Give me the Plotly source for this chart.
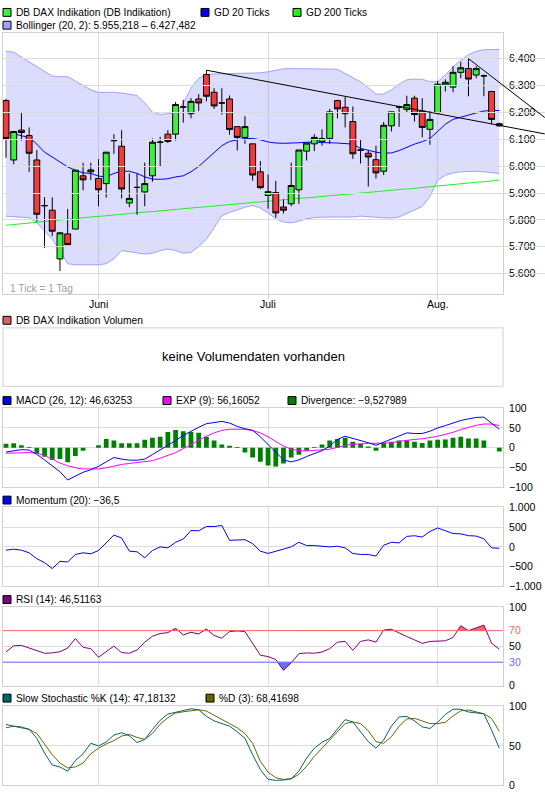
import plotly.graph_objects as go

# ---------------- data ----------------
idx = list(range(65))
month_pos = [12, 34, 56]
month_labels = ["Juni", "Juli", "Aug."]

price_open = [6244, 6023, 6134, 6114, 6023, 5853, 5836, 5655, 5748, 5766,
              5964, 5979, 5954, 5935, 6095, 6074, 5863, 5921, 5904, 5964,
              6089, 6119, 6119, 6220, 6195, 6250, 6341, 6275, 6235, 6250,
              6147, 6107, 6083, 5979, 5891, 5902, 5848, 5860, 5912, 6056,
              6083, 6092, 6103, 6244, 6219, 6166, 6060, 6048, 6024, 5981,
              6150, 6220, 6211, 6253, 6205, 6137, 6198, 6302, 6294, 6349,
              6363, 6339, 6336, 6278, 6150]
price_high = [6251, 6131, 6200, 6144, 6060, 5885, 5884, 5755, 5841, 5985,
              6013, 6013, 6026, 6052, 6119, 6134, 5973, 5973, 6013, 6103,
              6109, 6134, 6239, 6247, 6253, 6268, 6357, 6290, 6290, 6263,
              6147, 6186, 6083, 6019, 5969, 5945, 5877, 6013, 6060, 6086,
              6119, 6137, 6213, 6247, 6260, 6222, 6101, 6058, 6076, 6164,
              6202, 6225, 6262, 6262, 6253, 6205, 6317, 6323, 6372, 6388,
              6400, 6372, 6341, 6278, 6162]
price_low = [6031, 6007, 6095, 5979, 5793, 5695, 5740, 5610, 5707, 5766,
             5910, 5948, 5851, 5883, 6046, 5880, 5847, 5819, 5851, 5942,
             5999, 6086, 6095, 6162, 6178, 6205, 6241, 6213, 6192, 6117,
             6058, 6083, 5946, 5914, 5842, 5808, 5824, 5851, 5860, 6021,
             6056, 6076, 6083, 6178, 6144, 6027, 6010, 5924, 5954, 5967,
             6129, 6146, 6198, 6166, 6107, 6079, 6195, 6278, 6275, 6327,
             6260, 6327, 6260, 6156, 6147]
price_close = [6103, 6129, 6125, 6048, 5821, 5853, 5758, 5752, 5708, 5985,
               5949, 5986, 5912, 6052, 6095, 5915, 5880, 5921, 5935, 6089,
               6089, 6092, 6229, 6220, 6241, 6235, 6260, 6224, 6235, 6136,
               6107, 6147, 5967, 5920, 5905, 5826, 5836, 5928, 6060, 6086,
               6107, 6103, 6202, 6213, 6195, 6046, 6060, 6034, 5975, 6152,
               6202, 6220, 6229, 6192, 6144, 6174, 6305, 6312, 6349, 6366,
               6324, 6363, 6336, 6174, 6158]

boll_upper = [6427, 6424, 6406, 6388, 6369, 6351, 6335, 6333, 6333, 6317,
              6302, 6284, 6274, 6274, 6275, 6272, 6268, 6263, 6235, 6201,
              6192, 6195, 6198, 6235, 6290, 6327, 6341, 6343, 6344, 6345,
              6345, 6345, 6346, 6347, 6351, 6357, 6362, 6363, 6363, 6363,
              6362, 6361, 6361, 6360, 6345, 6327, 6314, 6292, 6268, 6268,
              6284, 6305, 6321, 6324, 6323, 6314, 6314, 6339, 6369, 6394,
              6415, 6427, 6433, 6434, 6434]
boll_lower = [5814, 5811, 5810, 5808, 5789, 5759, 5728, 5686, 5637, 5633,
              5633, 5633, 5633, 5637, 5655, 5686, 5682, 5676, 5673, 5676,
              5686, 5692, 5686, 5676, 5679, 5701, 5728, 5771, 5816, 5828,
              5838, 5847, 5854, 5844, 5826, 5804, 5792, 5789, 5796, 5804,
              5809, 5811, 5811, 5811, 5811, 5811, 5814, 5813, 5810, 5808,
              5807, 5811, 5824, 5836, 5850, 5887, 5948, 5966, 5975, 5979,
              5981, 5981, 5979, 5975, 5973]
gd20 = [6125, 6121, 6113, 6107, 6082, 6052, 6034, 6015, 5997, 5985,
        5975, 5973, 5963, 5960, 5973, 5981, 5981, 5973, 5960, 5952,
        5951, 5953, 5960, 5964, 5979, 5999, 6024, 6052, 6076, 6092,
        6098, 6103, 6103, 6098, 6090, 6086, 6085, 6085, 6087, 6089,
        6089, 6089, 6087, 6086, 6085, 6082, 6066, 6058, 6052, 6049,
        6049, 6058, 6070, 6082, 6091, 6103, 6129, 6156, 6174, 6183,
        6190, 6198, 6205, 6207, 6207]
gd200 = [5780, 5783, 5786, 5789, 5792, 5795, 5797, 5800, 5803, 5805,
         5808, 5811, 5813, 5816, 5818, 5821, 5823, 5826, 5829, 5831,
         5834, 5836, 5839, 5842, 5844, 5847, 5849, 5852, 5854, 5857,
         5860, 5862, 5865, 5867, 5870, 5872, 5875, 5877, 5880, 5882,
         5885, 5887, 5890, 5892, 5895, 5897, 5900, 5902, 5905, 5908,
         5910, 5913, 5915, 5918, 5920, 5923, 5925, 5928, 5931, 5934,
         5937, 5940, 5942, 5945, 5948]

trend1_x = [26, 69.9]
trend1_y = [6357, 6120]
trend2_x = [60, 69.9]
trend2_y = [6400, 6181]

macd = [-11, -7.5, -5, -6, -17, -31, -46, -61, -82, -72.5,
        -62.5, -56, -47.5, -36, -25, -29, -31.7, -31.7, -29, -17.5,
        -6, 6.7, 18, 31, 41.7, 51.7, 60.8, 63, 66.7, 62.5,
        54, 48, 44, 27.5, 8.3, -12.5, -31, -36, -31, -22.5,
        -14, -7.5, 4, 21, 29, 24, 19, 12.5, 6, 14,
        22.5, 31, 37.5, 36, 36, 41.7, 50, 56, 62.5, 69,
        73, 76.7, 77.5, 62.5, 46.6]
signal = [-14, -13, -12.5, -12.5, -14, -20, -29, -39, -46, -51,
          -54, -54, -54, -51, -46, -42.5, -40, -38, -36.7, -33,
          -26.7, -19, -12.5, -2.5, 8.3, 18, 29, 37.5, 44, 46.7,
          47.5, 46.7, 43.3, 37.5, 27.5, 16.7, 4, -4, -7.5, -8.3,
          -7.5, -6.7, -4, 1, 6, 8.3, 10, 11, 11, 11,
          12.5, 16, 19, 21, 22.5, 25, 29, 34, 39, 46,
          51.7, 56.7, 60, 60, 56.2]
divergence = [10, 11, 6, 2, -15, -23, -31, -29, -37, -21,
              -8, 0, 6, 22, 18, 11, 11, 11, 20, 25,
              28, 40, 45, 42, 40, 38, 28, 18, 8, 5,
              2, -12, -25, -36, -45, -48, -40, -25, -18, -8,
              2, 8, 18, 22, 25, 15, 10, 3, -8, 12,
              15, 18, 18, 15, 12, 18, 20, 21, 25, 27.5,
              23, 23, 18, 0, -9.5]
momentum = [-83, -58, -83, -150, -300, -400, -550, -367, -383, -192,
            -150, -175, -92, 100, 300, 225, -108, -125, -275, -92,
            0, -25, 117, 200, 417, 408, 517, 517, 542, 167,
            167, 183, 83, -108, -167, -108, -50, 0, 117, 33,
            33, 17, 0, 17, -25, -167, -192, -192, -233, 42,
            117, 100, 267, 283, 250, 392, 480, 410, 340, 330,
            285, 275, 205, -25, -36.5]
rsi = [42.9, 50.8, 51.3, 47.9, 44.6, 41.3, 41.7, 43.3, 47.9, 60,
       48.8, 47.1, 36.3, 43.8, 50.4, 42.1, 41.3, 45.4, 55.4, 62.9,
       66.3, 67.5, 72.9, 64.6, 67.9, 65.8, 72.1, 63.8, 60.4, 68.8,
       69.6, 68.8, 54.2, 38.8, 37.1, 33.3, 19.6, 29.2, 40.8, 41.7,
       41.3, 42.9, 47.1, 55.4, 56.3, 45, 56.3, 58.3, 55.4, 70.8,
       71.7, 66.7, 62.5, 58.3, 53.8, 56.3, 57.1, 57.1, 61.3, 76.3,
       70, 73.8, 77, 54, 46.5]
stoch_k = [77.1, 74.6, 72.9, 71.3, 59.6, 40.8, 25.8, 23.3, 17.9, 31.3,
           40, 53.3, 50, 55, 63.8, 66.7, 62.9, 54.2, 58.3, 70.8,
           82.5, 90.4, 92.5, 94.2, 97.1, 95.8, 87.5, 81.7, 78.3, 75,
           67.9, 59.6, 38.8, 20, 7.5, 6.3, 6.7, 8.3, 17.9, 34.6,
           47.1, 54.6, 59.6, 70.8, 83.3, 80.4, 67.9, 55.4, 47.1, 57.5,
           75, 86.7, 87.5, 81.7, 74.2, 72.1, 80, 90, 96.5, 96.5,
           93, 92, 90.8, 70, 47.2]
stoch_d = [72.9, 75, 74.2, 70.8, 65.8, 52.5, 38.8, 28.3, 22.1, 23.3,
           28.3, 40, 47.1, 52.5, 56.7, 62.5, 64.6, 60.8, 58.3, 65.8,
           77.5, 85.8, 91.7, 93.3, 95, 95.8, 94.2, 89.2, 84.2, 78.3,
           72.9, 65.8, 53.3, 30.4, 16.7, 9.6, 7.5, 8.3, 13.8, 24.2,
           36.7, 47.1, 57.5, 67.9, 78.3, 80.4, 78.3, 69.2, 55.4, 53.3,
           61.7, 75, 84.2, 85, 81.7, 78.3, 78.3, 80, 88, 94.5,
           95.5, 93.5, 90.8, 85, 68.4]

price_ticks = [5600, 5700, 5800, 5900, 6000, 6100, 6200, 6300, 6400]
price_ticktext = ["5.600", "5.700", "5.800", "5.900", "6.000", "6.100", "6.200", "6.300", "6.400"]
macd_ticks = [-100, -50, 0, 50, 100]
macd_ticktext = ["\u2212100", "\u221250", "0", "50", "100"]
mom_ticks = [-1000, -500, 0, 500, 1000]
mom_ticktext = ["\u22121.000", "\u2212500", "0", "500", "1.000"]
rsi_ticks = [0, 30, 50, 70, 100]
rsi_ticktext = ["0", '<span style="color:#6b6bff">30</span>', "50",
                '<span style="color:#ff6464">70</span>', "100"]
sto_ticks = [0, 50, 100]
sto_ticktext = ["0", "50", "100"]

# ---------------- layout constants ----------------
W, H = 545, 812
XL, XR = 3, 503
XRANGE = [-0.39, 64.48]
YRANGE = [5523, 6495]
FONT = "Liberation Sans, Arial, sans-serif"
FS = 10.5      # axis labels
LFS = 10.2     # legend texts
GRID = "#dcdcdc"
BORDER = "#d0d0d0"

UP = "#3cf03c"
DOWN = "#f03c3c"


def py(p):
    return 1 - p / H


def px(p):
    return p / W


panels = {
    "main": (27.5, 292.7),
    "macd": (408.3, 488.3),
    "mom": (509.0, 589.0),
    "rsi": (610.0, 690.0),
    "sto": (711.0, 791.0),
}


def ydom(name):
    t, b = panels[name]
    return [py(b), py(t)]


fig = go.Figure()

# ---- main price panel ----
fig.add_trace(go.Scatter(x=idx, y=boll_lower, mode="lines", line=dict(color="#a0a0ff", width=1),
                         xaxis="x", yaxis="y", hoverinfo="skip"))
fig.add_trace(go.Scatter(x=idx, y=boll_upper, mode="lines", line=dict(color="#a0a0ff", width=1),
                         fill="tonexty", fillcolor="rgba(140,140,255,0.30)",
                         xaxis="x", yaxis="y", hoverinfo="skip"))
fig.add_trace(go.Scatter(x=idx, y=gd200, mode="lines", line=dict(color="#22ee22", width=1),
                         xaxis="x", yaxis="y", hoverinfo="skip"))
fig.add_trace(go.Scatter(x=idx, y=gd20, mode="lines", line=dict(color="#0000ff", width=1),
                         xaxis="x", yaxis="y", hoverinfo="skip"))
# candles on an overlaid axis pair so they are drawn above the band and averages
fig.add_trace(go.Candlestick(x=idx, open=price_open, high=price_high, low=price_low, close=price_close,
                             increasing=dict(line=dict(color="black", width=1), fillcolor=UP),
                             decreasing=dict(line=dict(color="black", width=1), fillcolor=DOWN),
                             whiskerwidth=0, xaxis="x7", yaxis="y7", hoverinfo="skip"))
# trend lines (extend past the plot frame, drawn on a wider axis)
for tx, ty in ((trend1_x, trend1_y), (trend2_x, trend2_y)):
    fig.add_trace(go.Scatter(x=tx, y=ty, mode="lines", line=dict(color="black", width=1),
                             xaxis="x6", yaxis="y", hoverinfo="skip"))

# ---- MACD ----
fig.add_trace(go.Bar(x=idx, y=divergence, marker=dict(color="#008000", line=dict(width=0)), width=0.62,
                     xaxis="x2", yaxis="y2", hoverinfo="skip"))
fig.add_trace(go.Scatter(x=idx, y=signal, mode="lines", line=dict(color="#ff00ff", width=1),
                         xaxis="x2", yaxis="y2", hoverinfo="skip"))
fig.add_trace(go.Scatter(x=idx, y=macd, mode="lines", line=dict(color="#0000ff", width=1),
                         xaxis="x2", yaxis="y2", hoverinfo="skip"))

# ---- Momentum ----
fig.add_trace(go.Scatter(x=idx, y=momentum, mode="lines", line=dict(color="#0000ff", width=1),
                         xaxis="x3", yaxis="y3", hoverinfo="skip"))


# ---- RSI with fills beyond 70 / 30 ----
def clipped_polygon(xs, ys, level, above):
    ox, oy = [], []
    n = len(xs)
    for i in range(n):
        y = ys[i]
        inside = (y > level) if above else (y < level)
        ox.append(xs[i])
        oy.append(y if inside else level)
        if i < n - 1:
            y2 = ys[i + 1]
            if (y - level) * (y2 - level) < 0:
                t = (level - y) / (y2 - y)
                ox.append(xs[i] + t * (xs[i + 1] - xs[i]))
                oy.append(level)
    ox += [xs[-1], xs[0]]
    oy += [level, level]
    return ox, oy


fx, fy = clipped_polygon(idx, rsi, 70, True)
fig.add_trace(go.Scatter(x=fx, y=fy, mode="lines", line=dict(width=0), fill="toself",
                         fillcolor="#ff6464", xaxis="x4", yaxis="y4", hoverinfo="skip"))
fx, fy = clipped_polygon(idx, rsi, 30, False)
fig.add_trace(go.Scatter(x=fx, y=fy, mode="lines", line=dict(width=0), fill="toself",
                         fillcolor="#6b6bff", xaxis="x4", yaxis="y4", hoverinfo="skip"))
fig.add_trace(go.Scatter(x=idx, y=rsi, mode="lines", line=dict(color="#800080", width=1),
                         xaxis="x4", yaxis="y4", hoverinfo="skip"))

# ---- Stochastic ----
fig.add_trace(go.Scatter(x=idx, y=stoch_d, mode="lines", line=dict(color="#666600", width=1),
                         xaxis="x5", yaxis="y5", hoverinfo="skip"))
fig.add_trace(go.Scatter(x=idx, y=stoch_k, mode="lines", line=dict(color="#006666", width=1),
                         xaxis="x5", yaxis="y5", hoverinfo="skip"))

# ---------------- axes ----------------
xdom = [px(XL), px(XR)]
common_x = dict(domain=xdom, range=XRANGE, tickvals=month_pos, showgrid=True, gridcolor=GRID,
                gridwidth=1, showline=True, mirror=True, linecolor=BORDER, linewidth=1,
                zeroline=False, fixedrange=True)
common_y = dict(side="right", showgrid=True, gridcolor=GRID, gridwidth=1, showline=True, mirror=True,
                linecolor=BORDER, linewidth=1, zeroline=False, ticks="", fixedrange=True,
                ticklabelstandoff=3,
                tickfont=dict(family=FONT, size=FS, color="black"))

layout_axes = {}
layout_axes["xaxis"] = dict(common_x, anchor="y", ticks="outside", ticklen=4, tickcolor=BORDER,
                            showticklabels=False, rangeslider=dict(visible=False))
for k, a in (("xaxis2", "y2"), ("xaxis3", "y3"), ("xaxis4", "y4"), ("xaxis5", "y5")):
    layout_axes[k] = dict(common_x, anchor=a, showticklabels=False, ticks="")
ext = XRANGE[0] + (XRANGE[1] - XRANGE[0]) * (W - XL) / (XR - XL)
layout_axes["xaxis6"] = dict(domain=[px(XL), 1.0], range=[XRANGE[0], ext], anchor="y", visible=False,
                             showgrid=False, zeroline=False, fixedrange=True)
layout_axes["xaxis7"] = dict(overlaying="x", range=XRANGE, anchor="y7", visible=False, showgrid=False,
                             zeroline=False, fixedrange=True, rangeslider=dict(visible=False))

layout_axes["yaxis"] = dict(common_y, anchor="x", domain=ydom("main"), range=YRANGE,
                            tickvals=price_ticks, ticktext=price_ticktext)
layout_axes["yaxis7"] = dict(overlaying="y", range=YRANGE, anchor="x7", visible=False, showgrid=False,
                             zeroline=False, fixedrange=True)
layout_axes["yaxis2"] = dict(common_y, anchor="x2", domain=ydom("macd"), range=[-100, 100],
                             tickvals=macd_ticks, ticktext=macd_ticktext)
layout_axes["yaxis3"] = dict(common_y, anchor="x3", domain=ydom("mom"), range=[-1000, 1000],
                             tickvals=mom_ticks, ticktext=mom_ticktext)
layout_axes["yaxis4"] = dict(common_y, anchor="x4", domain=ydom("rsi"), range=[0, 100],
                             tickvals=rsi_ticks, ticktext=rsi_ticktext)
layout_axes["yaxis5"] = dict(common_y, anchor="x5", domain=ydom("sto"), range=[0, 100],
                             tickvals=sto_ticks, ticktext=sto_ticktext)

# ---------------- shapes & annotations ----------------
shapes = []
annotations = []


def legend_item(x_px, y_px, color, text):
    shapes.append(dict(type="rect", xref="paper", yref="paper",
                       x0=px(x_px), x1=px(x_px + 8), y0=py(y_px + 4), y1=py(y_px - 4),
                       fillcolor=color, line=dict(color="black", width=1)))
    annotations.append(dict(xref="paper", yref="paper", x=px(x_px + 11), y=py(y_px), text=text,
                            showarrow=False, xanchor="left", yanchor="middle",
                            font=dict(family=FONT, size=LFS, color="black")))


legend_item(3, 6.5, UP, "DB DAX Indikation (DB Indikation)")
legend_item(201, 6.5, "#0000ff", "GD 20 Ticks")
legend_item(293, 6.5, "#22ee22", "GD 200 Ticks")
legend_item(3, 19.5, "#a0a0ff", "Bollinger (20, 2): 5.955,218 \u2013 6.427,482")
legend_item(3, 319, "#d26464", "DB DAX Indikation Volumen")
legend_item(3, 400.5, "#0000ff", "MACD (26, 12): 46,63253")
legend_item(163, 400.5, "#ff00ff", "EXP (9): 56,16052")
legend_item(288, 400.5, "#008000", "Divergence: \u22129,527989")
legend_item(3, 501.5, "#0000ff", "Momentum (20): \u221236,5")
legend_item(3, 602.5, "#800080", "RSI (14): 46,51163")
legend_item(3, 702.5, "#006666", "Slow Stochastic %K (14): 47,18132")
legend_item(206, 702.5, "#666600", "%D (3): 68,41698")

# month labels under the price panel
for pos, lab in zip(month_pos, month_labels):
    annotations.append(dict(xref="x", yref="paper", x=pos, y=py(302.5), text=lab, showarrow=False,
                            xanchor="center", yanchor="middle",
                            font=dict(family=FONT, size=FS, color="black")))

# volume box
shapes.append(dict(type="rect", xref="paper", yref="paper", x0=px(XL), x1=px(XR),
                   y0=py(386), y1=py(326.7), line=dict(color=BORDER, width=1), fillcolor="rgba(0,0,0,0)"))
annotations.append(dict(xref="paper", yref="paper", x=px((XL + XR) / 2), y=py(356),
                        text="keine Volumendaten vorhanden", showarrow=False,
                        xanchor="center", yanchor="middle", font=dict(family=FONT, size=13, color="black")))
annotations.append(dict(xref="paper", yref="paper", x=px(8), y=py(286.5), text="1 Tick = 1 Tag",
                        showarrow=False, xanchor="left", yanchor="middle",
                        font=dict(family=FONT, size=LFS, color="#a0a0a0")))

# RSI 70/30 level lines
shapes.append(dict(type="line", xref="x4 domain", yref="y4", x0=0, x1=1, y0=70, y1=70,
                   line=dict(color="#ff6464", width=1)))
shapes.append(dict(type="line", xref="x4 domain", yref="y4", x0=0, x1=1, y0=30, y1=30,
                   line=dict(color="#6b6bff", width=1)))

fig.update_layout(
    width=W, height=H, autosize=False,
    margin=dict(l=0, r=0, t=0, b=0),
    paper_bgcolor="white", plot_bgcolor="rgba(0,0,0,0)",
    showlegend=False, hovermode=False,
    boxgap=0.15, boxgroupgap=0.1,
    shapes=shapes, annotations=annotations,
    font=dict(family=FONT, size=FS, color="black"),
    **layout_axes,
)

fig.write_html("out.html", config={"displayModeBar": False, "staticPlot": True},
               post_script="document.body.style.margin='0';document.body.style.overflow='hidden';")
